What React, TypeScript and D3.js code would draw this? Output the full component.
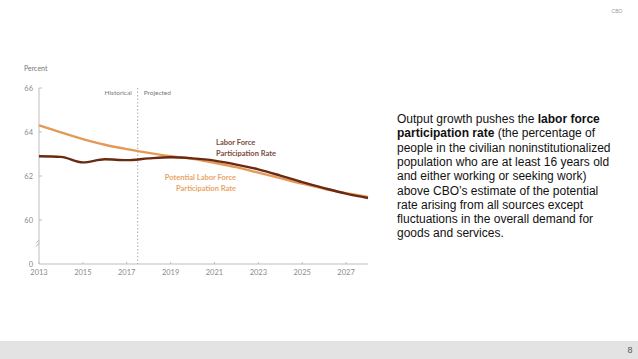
import React from "react";
import * as d3 from "d3";

// years shown on the chart
const years = [2013, 2014, 2015, 2016, 2017, 2018, 2019, 2020, 2021, 2022, 2023, 2024, 2025, 2026, 2027, 2028];
// labor force participation rate, percent
const lfpr = [62.9, 62.87, 62.62, 62.76, 62.72, 62.8, 62.85, 62.8, 62.7, 62.52, 62.3, 62.02, 61.72, 61.45, 61.2, 61.0];
// potential labor force participation rate, percent
const potential = [64.3, 63.98, 63.68, 63.42, 63.22, 63.05, 62.9, 62.78, 62.6, 62.4, 62.15, 61.9, 61.65, 61.42, 61.22, 61.05];
const xTicks = [2013, 2015, 2017, 2019, 2021, 2023, 2025, 2027];
const yTicks = [66, 64, 62, 60];
const splitYear = 2017.5;

const bodyText = [
  [{ t: "Output growth pushes the ", b: false }, { t: "labor force", b: true }],
  [{ t: "participation rate", b: true }, { t: " (the percentage of", b: false }],
  [{ t: "people in the civilian noninstitutionalized", b: false }],
  [{ t: "population who are at least 16 years old", b: false }],
  [{ t: "and either working or seeking work)", b: false }],
  [{ t: "above CBO\u2019s estimate of the potential", b: false }],
  [{ t: "rate arising from all sources except", b: false }],
  [{ t: "fluctuations in the overall demand for", b: false }],
  [{ t: "goods and services.", b: false }],
];

export default function App() {
  const x = d3.scaleLinear().domain([2013, 2028]).range([39, 368]);
  // axis is broken below 60; the "0" baseline sits two units under 60
  const y = d3.scaleLinear().domain([58, 66]).range([264, 88]);
  const line = d3
    .line<number>()
    .x((_, i) => x(years[i]))
    .y((d) => y(d))
    .curve(d3.curveMonotoneX);

  const chartFont = "Lato, 'Open Sans', sans-serif";
  const grey = "#8a8a8a";

  return (
    <div style={{ position: "absolute", left: 0, top: 0, width: 638, height: 359, background: "#fff" }}>
      <svg width={638} height={359} style={{ display: "block" }}>
        <text x={617} y={13} fontSize={5} fill="#999" fontFamily="'Liberation Sans', Arial, sans-serif" textAnchor="middle">
          CBO
        </text>

        <text x={24} y={71} fontSize={7} fill="#777" fontFamily={chartFont}>
          Percent
        </text>

        {/* axes */}
        <line x1={39} x2={39} y1={y(66)} y2={y(58)} stroke="#bdbdbd" strokeWidth={1} />
        <line x1={39} x2={x(2028)} y1={y(58)} y2={y(58)} stroke="#bdbdbd" strokeWidth={1} />
        <path d={`M36,${y(58.95)} l3,-3 M36,${y(58.8)} l3,-3`} stroke="#aaa" strokeWidth={0.8} fill="none" />

        {yTicks.map((v) => (
          <g key={v}>
            <line x1={39} x2={42} y1={y(v)} y2={y(v)} stroke="#bdbdbd" />
            <text x={33} y={y(v) + 2.5} fontSize={7.5} fill={grey} textAnchor="end" fontFamily={chartFont}>
              {v}
            </text>
          </g>
        ))}
        <text x={33} y={y(58) + 2.5} fontSize={7.5} fill={grey} textAnchor="end" fontFamily={chartFont}>
          0
        </text>

        {xTicks.map((v) => (
          <g key={v}>
            <line x1={x(v)} x2={x(v)} y1={y(58)} y2={y(58) - 2} stroke="#bdbdbd" />
            <text x={x(v)} y={y(58) + 11} fontSize={7.5} fill={grey} textAnchor="middle" fontFamily={chartFont}>
              {v}
            </text>
          </g>
        ))}

        <line x1={x(splitYear)} x2={x(splitYear)} y1={88} y2={y(58)} stroke="#aaa" strokeWidth={1} strokeDasharray="1.5,2" />
        <text x={x(splitYear) - 6} y={95} fontSize={6.5} fill="#777" textAnchor="end" fontFamily={chartFont}>
          Historical
        </text>
        <text x={x(splitYear) + 6} y={95} fontSize={6.5} fill="#777" fontFamily={chartFont}>
          Projected
        </text>

        <path d={line(potential) || ""} fill="none" stroke="#e39a58" strokeWidth={2.4} />
        <path d={line(lfpr) || ""} fill="none" stroke="#6a2a12" strokeWidth={2.4} />

        <text fontSize={7.5} fontWeight="bold" fill="#7b4a3c" fontFamily={chartFont}>
          <tspan x={216} y={145}>Labor Force</tspan>
          <tspan x={216} y={156}>Participation Rate</tspan>
        </text>
        <text fontSize={7.5} fontWeight="bold" fill="#e9a466" fontFamily={chartFont} textAnchor="end">
          <tspan x={236} y={180}>Potential Labor Force</tspan>
          <tspan x={236} y={191}>Participation Rate</tspan>
        </text>

        <text fontSize={12} fill="#111" fontFamily="'Liberation Sans', Arial, sans-serif">
          {bodyText.map((ln, i) => (
            <tspan key={i} x={397} y={123 + i * 14.3}>
              {ln.map((seg, j) => (
                <tspan key={j} fontWeight={seg.b ? "bold" : "normal"}>
                  {seg.t}
                </tspan>
              ))}
            </tspan>
          ))}
        </text>

        <rect x={0} y={341} width={638} height={18} fill="#e3e3e3" />
        <text x={630} y={353} fontSize={9} fill="#555" textAnchor="middle" fontFamily="'Liberation Sans', Arial, sans-serif">
          8
        </text>
      </svg>
    </div>
  );
}
